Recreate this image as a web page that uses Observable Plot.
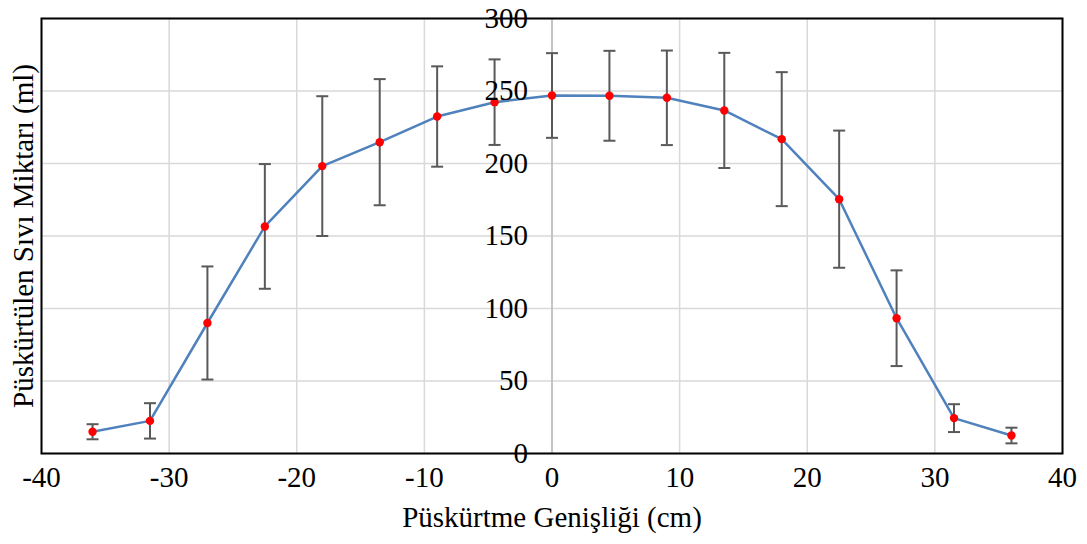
<!DOCTYPE html>
<html>
<head>
<meta charset="utf-8">
<script src="https://cdn.jsdelivr.net/npm/d3@7"></script>
<script src="https://cdn.jsdelivr.net/npm/@observablehq/plot@0.6"></script>
<style>
  body { margin: 0; background: #fff; }
  #chart svg { display: block; }
  #chart svg text { font-family: "Liberation Serif", "Times New Roman", serif !important; }
</style>
</head>
<body>
<div id="chart"></div>
<script>
const widths = [-36, -31.5, -27, -22.5, -18, -13.5, -9, -4.5, 0, 4.5, 9, 13.5, 18, 22.5, 27, 31.5, 36];
const amounts = [15, 22.5, 90, 156.6, 198.2, 214.7, 232.4, 242.3, 246.9, 246.7, 245.3, 236.6, 216.8, 175.4, 93.3, 24.4, 12.4];
const errors = [5.2, 12.2, 39, 43, 48.2, 43.5, 34.6, 29.5, 29.2, 31, 32.6, 39.7, 46.2, 47.3, 33, 9.6, 5.4];
const xTicks = [-40, -30, -20, -10, 0, 10, 20, 30, 40];
const yTicks = [0, 50, 100, 150, 200, 250, 300];
const xTitle = "Püskürtme Genişliği (cm)";
const yTitle = "Püskürtülen Sıvı Miktarı (ml)";

const data = widths.map((x, i) => ({x, y: amounts[i], lo: amounts[i] - errors[i], hi: amounts[i] + errors[i]}));

const capSymbol = {
  draw(context, size) {
    context.moveTo(-6, 0);
    context.lineTo(6, 0);
  }
};

const font = "Liberation Serif";

const chart = Plot.plot({
  width: 1087,
  height: 544,
  marginLeft: 41,
  marginRight: 25,
  marginTop: 18,
  marginBottom: 91,
  style: {fontFamily: font, background: "#fff"},
  x: {domain: [-40, 40], ticks: xTicks, axis: null},
  y: {domain: [0, 300], ticks: yTicks, axis: null},
  marks: [
    Plot.gridX(xTicks.filter(d => d !== 0), {stroke: "#d9d9d9", strokeOpacity: 1, strokeWidth: 1.5}),
    Plot.gridY(yTicks, {stroke: "#d9d9d9", strokeOpacity: 1, strokeWidth: 1.5}),
    Plot.ruleX([0], {stroke: "#bfbfbf", strokeWidth: 1.8}),
    Plot.frame({stroke: "#000", strokeWidth: 2}),
    Plot.line(data, {x: "x", y: "y", stroke: "#4f81bd", strokeWidth: 2.5}),
    Plot.ruleX(data, {x: "x", y1: "lo", y2: "hi", stroke: "#595959", strokeWidth: 2}),
    Plot.dot(data, {x: "x", y: "lo", symbol: capSymbol, stroke: "#595959", strokeWidth: 2, fill: "none"}),
    Plot.dot(data, {x: "x", y: "hi", symbol: capSymbol, stroke: "#595959", strokeWidth: 2, fill: "none"}),
    Plot.dot(data, {x: "x", y: "y", r: 4.2, fill: "#ff0000", stroke: "none"}),
    Plot.text(yTicks, {x: 0, y: d => d, text: d => String(d), textAnchor: "end", dx: -24, fontSize: 29, fontFamily: font, fill: "#000"}),
    Plot.text(xTicks, {x: d => d, frameAnchor: "bottom", text: d => String(d), dy: 33, fontSize: 29, fontFamily: font, fill: "#000"}),
    Plot.text([xTitle], {frameAnchor: "bottom", dy: 73, fontSize: 29, fontFamily: font, fill: "#000"}),
    Plot.text([yTitle], {frameAnchor: "left", rotate: -90, textAnchor: "middle", dx: -18, fontSize: 29, fontFamily: font, fill: "#000"})
  ]
});
document.getElementById("chart").appendChild(chart);
</script>
</body>
</html>
